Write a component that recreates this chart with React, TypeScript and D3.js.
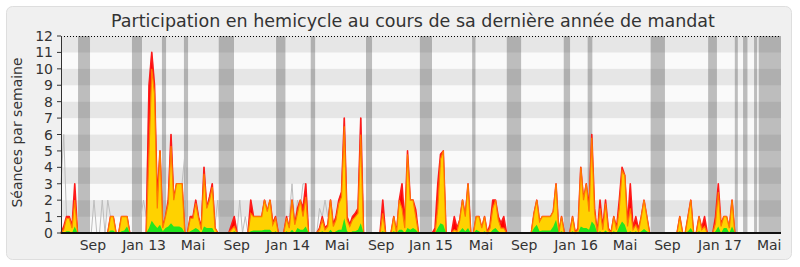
import React from "react";
import * as d3 from "d3";

// ---- data (weekly values, week index 0 = mid-June 2012) ----
const presences: number[] = [
  0,0.4,1,1,0.4,3,0,0,0,0,
  0,0,0,0,0,0,0,0,1,1,
  0,0,1,1,1,0,0,0,0,0,
  0,0,9,11,9,2,5,0.3,1,2,
  6,2,3,3,3,0,0,1,1,2,
  1,0.3,4,1.5,2.2,3,0.3,0,0,0,
  0,0,0.5,1,0,0,0,0,0,2,
  1,1,1,1,2,1.3,2,0.6,1,0,
  0,0,1,0.3,2,0.5,1.5,2,1.5,3,
  0,0,0,0,0.3,1,0.3,0.5,2,0.5,
  1,2,2.5,7,1,0.5,1,1.2,1.5,7,
  0,0,0,0,0,0,0,2,0,0,
  0,1,0,2,3,0.5,5,2,2,1.4,
  0,0,0,0,0,0,0.3,3,4.8,5,
  0,0,0,1,0.3,0.8,2,1,3,0,
  0,1,1,0.3,1,0,0.5,2,2,1,
  0.6,1,0,0,0,0,0,0,0,0,
  0,0,1.2,2,0.7,1,1,1,1,1.3,
  3,0,1,0,0,0,1,0,0.3,4,
  2,3,1.5,6,1.5,0,2,0.3,2,0.3,
  0,1,0.3,2,4,3.5,0.5,3,0.3,1,
  0.2,1,2,1,0,0,0,0,0,0,
  0,0,0,0,0,1,0,0,1,2,
  0,0,1,0.3,1,0,0,0,1,3,
  0.5,1,1,0.3,2,0,0,0,0,0,
  0,0,0,0,0,0,0,0,0,0,0,0,
];

const participations: number[] = [
  0,0.2,0.9,0.9,0.3,2,0,0,0,0,
  0,0,0,0,0,0,0,0,1,1,
  0,0,1,1,1,0,0,0,0,0,
  0,0,5,10,8.5,1.5,5,0.3,1,1.8,
  5.3,2,3,3,3,0,0,0.9,0.9,1.8,
  0.9,0.2,3.6,1.5,2,2.8,0.3,0,0,0,
  0,0,0.2,0.4,0,0,0,0,0,1.2,
  1,1,1,1,2,1.3,2,0.5,0.9,0,
  0,0,0.9,0.3,2,0.5,1.2,2,1,2.2,
  0,0,0,0,0.2,0.8,0.2,0.4,2,0.4,
  0.8,1.8,2.2,6.5,0.8,0.4,0.8,1,1.2,6,
  0,0,0,0,0,0,0,1.2,0,0,
  0,1,0,2,1.5,0.3,4.8,2,2,1,
  0,0,0,0,0,0,0,1.5,4.5,5,
  0,0,0,0.2,0.1,0.8,2,1,3,0,
  0,1,1,0.3,1,0,0.3,1.5,2,0.8,
  0.3,0.3,0,0,0,0,0,0,0,0,
  0,0,1.2,2,0.7,1,1,1,1,1.3,
  3,0,1,0,0,0,1,0,0.2,4,
  2,3,1.3,5.8,1.3,0,1.5,0.2,1.8,0.2,
  0,1,0.2,1.5,3.8,3.5,0.4,1.5,0.2,0.5,
  0.1,1,2,1,0,0,0,0,0,0,
  0,0,0,0,0,1,0,0,1,2,
  0,0,1,0.2,0.4,0,0,0,0.6,2.5,
  0.4,1,1,0.3,2,0,0,0,0,0,
  0,0,0,0,0,0,0,0,0,0,0,0,
];

const interventions: number[] = [
  0,0,0.1,0.1,0,0.4,0,0,0,0,
  0,0,0,0,0,0,0,0,0.15,0.15,
  0,0,0.1,0.15,0.4,0,0,0,0,0,
  0,0,0.3,0.75,0.5,0.3,0.5,0.1,0.3,0.4,
  0.6,0.4,0.4,0.4,0.3,0,0,0.1,0.2,0.3,
  0.2,0,0.4,0.3,0.3,0.3,0,0,0,0,
  0,0,0,0.1,0,0,0,0,0,0.1,
  0.15,0.15,0.15,0.15,0.2,0.2,0.2,0,0.1,0,
  0,0,0.1,0,0.2,0,0.3,0.2,0.2,0.4,
  0,0,0,0,0,0.1,0,0,0.2,0,
  0.1,0.2,0.2,0.9,0.1,0,0.1,0.1,0.2,0.6,
  0,0,0,0,0,0,0,0.1,0,0,
  0,0.1,0,0.2,0.2,0,0.3,0.2,0.3,0.2,
  0,0,0,0,0,0,0,0.3,0.6,0.5,
  0,0,0,0,0,0.1,0.3,0.1,0.3,0,
  0,0.2,0.1,0,0.1,0,0,0.2,0.3,0.1,
  0,0,0,0,0,0,0,0,0,0,
  0,0,0.3,0.5,0.1,0.15,0.15,0.15,0.15,0.4,
  0.8,0,0.1,0,0,0,0.1,0,0,0.4,
  0.3,0.3,0.2,0.7,0.5,0,0.1,0,0.15,0,
  0,0.1,0,0.4,0.7,0.5,0,0.1,0,0.1,
  0,0.1,0.25,0.1,0,0,0,0,0,0,
  0,0,0,0,0,0.1,0,0,0.1,0.3,
  0,0,0.1,0,0,0,0,0,0.1,0.4,
  0,0.3,0.3,0,0.4,0,0,0,0,0,
  0,0,0,0,0,0,0,0,0,0,0,0,
];

const mediane: number[] = [
  3,6,1,1,0.4,2,0,0,0,0,
  0,0,2,0,0,2,0,2,1,1,
  0,0,1,1,1,0,0,0,0,1,
  2,1,9,11,9,2,5,0.3,1,2,
  6,2,3,3,3,4.7,0,1,1,2,
  1,0.3,4,1.5,2.2,3,0.5,2,0,0,
  0,0,0.5,1,0,2,0,1,0,2,
  1,1,1,1,2,1.3,2,0.6,1,0,
  0,0,1,1,3,0.5,2,1.5,3,3,
  0,0,0,0,1.5,1,2,1,2,0.5,
  1,2,2.5,7,1,0.5,1,1.2,1.5,7,
  0,0,0,0,0,0,0,0,0,0,
  0,0,0,0,0,0,0,0,0,0,
  0,0,0,0,0,0,0,0,0,0,
  0,0,0,0,0,0,0,0,0,0,
  0,0,0,0,0,0,0,0,0,0,
  0,0,0,0,0,0,0,0,0,0,
  0,0,0,0,0,0,0,0,0,0,
  0,0,0,0,0,0,0,0,0,0,
  0,0,0,0,0,0,0,0,0,0,
  0,0,0,0,0,0,0,0,0,0,
  0,0,0,0,0,0,0,0,0,0,
  0,0,0,0,0,0,0,0,0,0,
  0,0,0,0,0,0,0,0,0,0,
  0,0,0,0,0,0,0,0,0,0,
  0,0,0,0,0,0,0,0,0,0,0,0,
];

// parliamentary holidays, in week index [start, end]
const vacances: [number, number][] = [
  [6.2, 10.55], [25.8, 29.45], [36.7, 38.2], [44.7, 46.2], [57.35, 62.9],
  [78.2, 81.6], [90.8, 92.4], [110.9, 113.1], [130.5, 134.9], [149.5, 150.7],
  [162.1, 167.3], [182.8, 185.1], [191.5, 193.2], [214.4, 219.6], [235.3, 238.5],
  [245, 246.1], [248, 249.6], [252, 253.1], [253.7, 261.8],
];

const tickWeeks: number[] = [11.6, 30.2, 48, 63.9, 82.5, 100.4, 116.4, 134.5, 152.7, 168.4, 187.3, 205.1, 220.5, 239.6, 257.5];
const tickLabels: string[] = ["Sep", "Jan 13", "Mai", "Sep", "Jan 14", "Mai", "Sep", "Jan 15", "Mai", "Sep", "Jan 16", "Mai", "Sep", "Jan 17", "Mai"];
const yTicks: number[] = [0,1,2,3,4,5,6,7,8,9,10,11,12];

const TITLE = "Participation en hemicycle au cours de sa dernière année de mandat";
const YLABEL = "Séances par semaine";

export default function App() {
  const W = 800, H = 267;
  const left = 61, right = 781, top = 36, bottom = 233;
  const x = d3.scaleLinear().domain([0, 261.8]).range([left, right]);
  const y = d3.scaleLinear().domain([0, 12]).range([bottom, top]);
  const font = "'DejaVu Sans', Verdana, sans-serif";

  const area = (vals: number[]) =>
    d3.area<number>().x((_, i) => x(i)).y0(y(0)).y1((d) => y(d))(vals) || "";
  const line = (vals: number[]) =>
    d3.line<number>().x((_, i) => x(i)).y((d) => y(d))(vals) || "";

  const bands = d3.range(12);

  return (
    <svg width={W} height={H} style={{ position: "absolute", left: 0, top: 0 }} fontFamily={font}>
      <rect x={0} y={0} width={W} height={H} fill="#ffffff" />
      <rect x={6.5} y={6.5} width={785} height={253} rx={6} fill="#f0f0f0" stroke="#dedede" />
      <text x={413} y={27} textAnchor="middle" fontSize={17.5} fill="#333">{TITLE}</text>

      {bands.map((k) => (
        <rect key={k} x={left} y={y(k + 1)} width={right - left} height={y(k) - y(k + 1)}
          fill={k % 2 === 1 ? "#e6e6e6" : "#fafafa"} />
      ))}
      {vacances.map(([a, b], i) => (
        <rect key={i} x={x(a)} y={top} width={x(b) - x(a)} height={bottom - top} fill="rgba(50,50,50,0.3)" />
      ))}

      <path d={line(mediane)} fill="none" stroke="#bdbdbd" strokeWidth={1} />
      <path d={area(presences)} fill="#ff0000" stroke="#ff1a1a" strokeWidth={1.6} strokeLinejoin="round" />
      <path d={area(participations)} fill="#ffd200" />
      <path d={line(participations)} fill="none" stroke="#ff7a00" strokeWidth={1.2} />
      <path d={area(interventions)} fill="#22e61e" />

      <line x1={left} x2={right} y1={top + 0.5} y2={top + 0.5} stroke="#000" strokeDasharray="1,2" />
      <line x1={left + 0.5} x2={left + 0.5} y1={top} y2={bottom} stroke="#333" />
      <line x1={left} x2={right} y1={bottom} y2={bottom} stroke="#111" strokeWidth={2} />

      {yTicks.map((t) => (
        <g key={t}>
          <line x1={57} x2={left} y1={y(t)} y2={y(t)} stroke="#333" />
          <text x={53} y={y(t)} dy="0.36em" textAnchor="end" fontSize={14} fill="#333">{t}</text>
        </g>
      ))}
      {tickWeeks.map((w, i) => (
        <text key={i} x={x(w)} y={250} textAnchor="middle" fontSize={14} fill="#333">{tickLabels[i]}</text>
      ))}
      <text transform="translate(22,132.5) rotate(-90)" textAnchor="middle" fontSize={14} fill="#333">{YLABEL}</text>
    </svg>
  );
}
